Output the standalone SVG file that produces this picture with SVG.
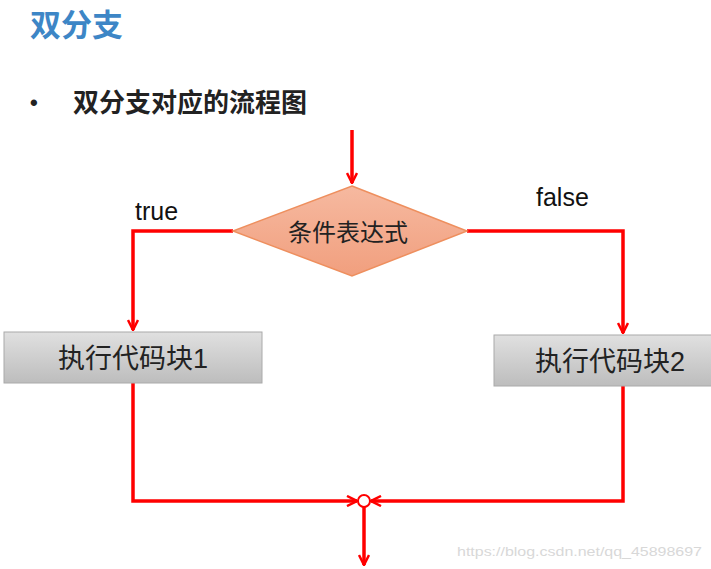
<svg xmlns="http://www.w3.org/2000/svg" width="711" height="569" viewBox="0 0 711 569">
<defs>
<linearGradient id="gd" x1="0" y1="0" x2="0" y2="1"><stop offset="0" stop-color="#f6b9a0"/><stop offset="1" stop-color="#f19f7e"/></linearGradient>
<linearGradient id="gb" x1="0" y1="0" x2="0" y2="1"><stop offset="0" stop-color="#e0e0e0"/><stop offset="1" stop-color="#bdbdbd"/></linearGradient>
<marker id="ar" viewBox="0 0 12 12" refX="11" refY="6" markerWidth="12" markerHeight="12" markerUnits="userSpaceOnUse" orient="auto"><path d="M1,1 L11,6 L1,11" fill="none" stroke="#ff0000" stroke-width="2.5"/></marker>
<style>
.c{fill:none;stroke:#ff0000;stroke-width:3.5;marker-end:url(#ar)}
.t{font-family:"Liberation Sans","Noto Sans CJK SC",sans-serif;fill:#222}
</style>
</defs>
<rect width="711" height="569" fill="#fff"/>
<text x="30" y="36" class="t" style="font-size:31px;font-weight:bold;fill:#3d86c6">双分支</text>
<text x="30" y="110" class="t" style="font-size:22px;font-weight:bold">•</text>
<text x="73" y="112" class="t" style="font-size:26px;font-weight:bold">双分支对应的流程图</text>
<g id="connectors">
<path class="c" d="M352,130 V183"/>
<path class="c" d="M233,231 H133 V330"/>
<path class="c" d="M467,231 H623 V333"/>
<path class="c" d="M133,383 V501 H357"/>
<path class="c" d="M623,386 V501 H371"/>
<path class="c" d="M364,507 V565"/>
<circle cx="364" cy="501" r="6" fill="#fff" stroke="#ff0000" stroke-width="2"/>
</g>
<text x="135" y="220" class="t" style="font-size:25px;fill:#111">true</text>
<text x="536" y="206" class="t" style="font-size:25px;fill:#111">false</text>
<g id="cond">
<polygon points="352,186 467,231 352,276 233,231" fill="url(#gd)" stroke="#ee8f5e" stroke-width="1.5"/>
<text x="348" y="241" text-anchor="middle" class="t" style="font-size:24px">条件表达式</text>
</g>
<g id="block1">
<rect x="4" y="332" width="258" height="51" fill="url(#gb)" stroke="#aaa"/>
<text x="133" y="368" text-anchor="middle" class="t" style="font-size:27px">执行代码块1</text>
</g>
<g id="block2">
<rect x="494" y="335" width="230" height="51" fill="url(#gb)" stroke="#aaa"/>
<text x="535" y="371" class="t" style="font-size:27px">执行代码块2</text>
</g>
<text x="457" y="556" class="t" style="font-size:13px;fill:#d8d8d8" textLength="245" lengthAdjust="spacingAndGlyphs">https://blog.csdn.net/qq_45898697</text>
</svg>
